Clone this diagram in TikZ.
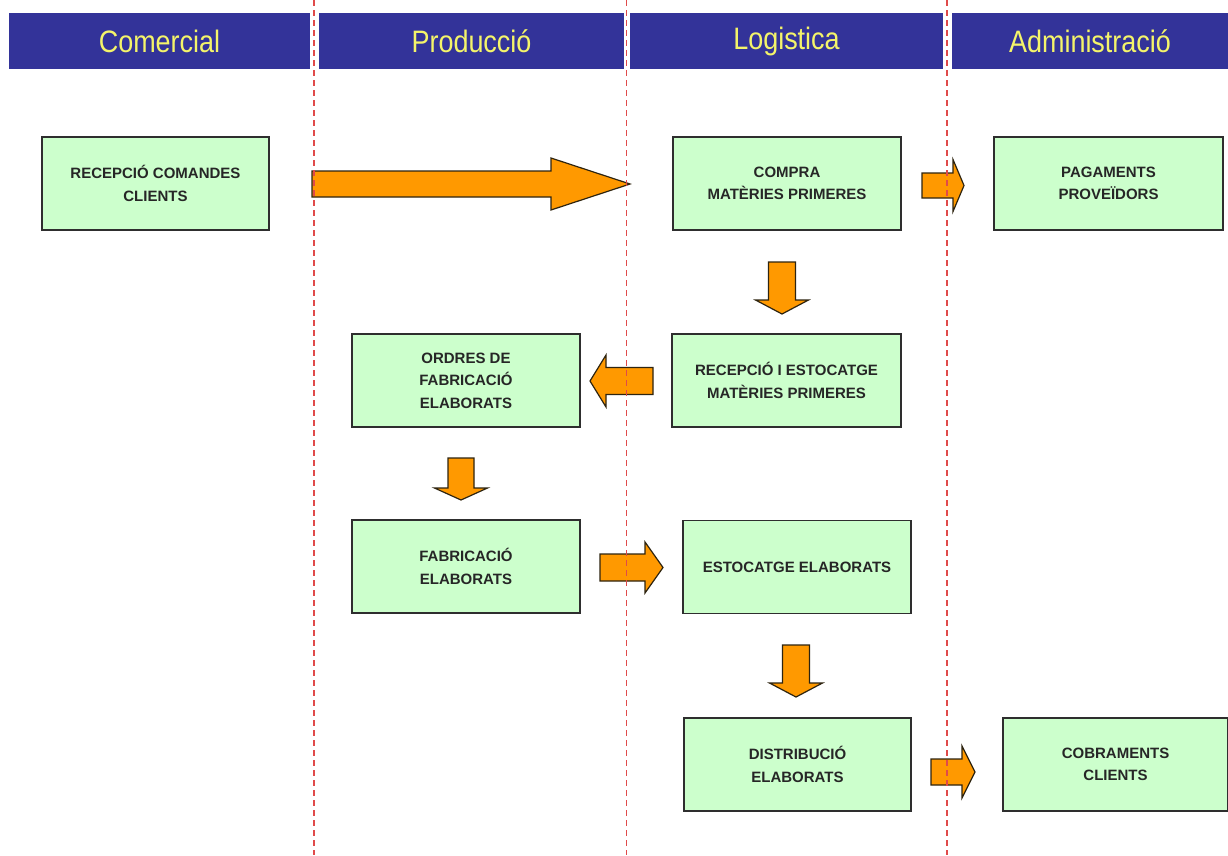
\documentclass[tikz,border=0pt]{standalone}
\usepackage{fontspec}
\setmainfont{Liberation Sans}
\newfontfamily\headfont[FakeStretch=0.87]{Liberation Sans}
\newfontfamily\boxfont{Liberation Sans}
\definecolor{barblue}{HTML}{333399}
\definecolor{headyellow}{HTML}{F4F46A}
\definecolor{boxgreen}{HTML}{CCFFCC}
\definecolor{boxline}{HTML}{2E2E2E}
\definecolor{arrfill}{HTML}{FF9900}
\definecolor{arrline}{HTML}{2E2410}
\definecolor{lanered}{HTML}{E04A4A}
\definecolor{boxtext}{HTML}{262626}
\tikzset{
  headbar/.style={fill=barblue, draw=none, minimum height=56pt, inner sep=0pt,
    font=\headfont\fontsize{31}{31}\selectfont, text=headyellow},
  procbox/.style={draw=boxline, fill=boxgreen, line width=1.4pt, inner sep=0pt,
    minimum height=93pt, align=center, text=boxtext,
    font=\boxfont\bfseries\fontsize{15}{22.5}\selectfont},
  blk/.style={fill=arrfill, draw=arrline, line width=1.2pt, line join=miter},
  lane/.style={draw=lanered, line width=1.2pt, dash pattern=on 6pt off 4pt}
}
\newcommand\hblkarrow[6]{% tail x, head start x, tip x, centre y, shaft half, head half
  \draw[blk] (#1,#4-#5) -- (#2,#4-#5) -- (#2,#4-#6) -- (#3,#4) -- (#2,#4+#6)
    -- (#2,#4+#5) -- (#1,#4+#5) -- cycle;}
\newcommand\vblkarrow[6]{% centre x, top y, head start y, tip y, shaft half, head half
  \draw[blk] (#1-#5,#2) -- (#1+#5,#2) -- (#1+#5,#3) -- (#1+#6,#3) -- (#1,#4)
    -- (#1-#6,#3) -- (#1-#5,#3) -- cycle;}
\begin{document}
\begin{tikzpicture}[x=1pt,y=-1pt]
\useasboundingbox[fill=white] (0,0) rectangle (1228,855);

% header bars
\node[headbar, minimum width=301pt] (h1) at (159.5,41) {Comercial};
\node[headbar, minimum width=305pt] (h2) at (471.5,41) {Producció};
\node[headbar, minimum width=313pt] (h3) at (786.5,41) {Logistica};
\node[headbar, minimum width=276pt] (h4) at (1090,41) {Administració};

% process boxes
\node[procbox, minimum width=227pt] (b1) at (155.5,183.5) {RECEPCIÓ COMANDES\\CLIENTS};
\node[procbox, minimum width=228pt] (b2) at (787,183.5) {COMPRA\\MATÈRIES PRIMERES};
\node[procbox, minimum width=229pt] (b3) at (1108.5,183.5) {PAGAMENTS\\PROVEÏDORS};
\node[procbox, minimum width=228pt] (b4) at (466,380.5) {ORDRES DE\\FABRICACIÓ\\ELABORATS};
\node[procbox, minimum width=229pt] (b5) at (786.5,380.5) {RECEPCIÓ I ESTOCATGE\\MATÈRIES PRIMERES};
\node[procbox, minimum width=228pt] (b6) at (466,566.5) {FABRICACIÓ\\ELABORATS};
\node[procbox, minimum width=228pt] (b7) at (797,567) {ESTOCATGE ELABORATS};
\node[procbox, minimum width=227pt] (b8) at (797.5,764.5) {DISTRIBUCIÓ\\ELABORATS};
\node[procbox, minimum width=225pt] (b9) at (1115.5,764.5) {COBRAMENTS\\CLIENTS};

% block arrows
\hblkarrow{312}{551}{630}{184}{13}{26}
\hblkarrow{922}{953}{964}{185.5}{12.5}{26}
\vblkarrow{782}{262}{300}{314}{13.5}{26.5}
\hblkarrow{653}{606}{590}{381}{13.5}{26}
\vblkarrow{461}{458}{488}{500}{13}{26.5}
\hblkarrow{600}{645}{663}{567.5}{13.5}{25.5}
\vblkarrow{796}{645}{683}{697}{13.5}{26.5}
\hblkarrow{931}{962}{975}{772}{13}{26}

% swimlane separators
\draw[lane] (314,0) -- (314,855);
\draw[lane] (626.5,0) -- (626.5,855);
\draw[lane] (947,0) -- (947,855);
\end{tikzpicture}
\end{document}
